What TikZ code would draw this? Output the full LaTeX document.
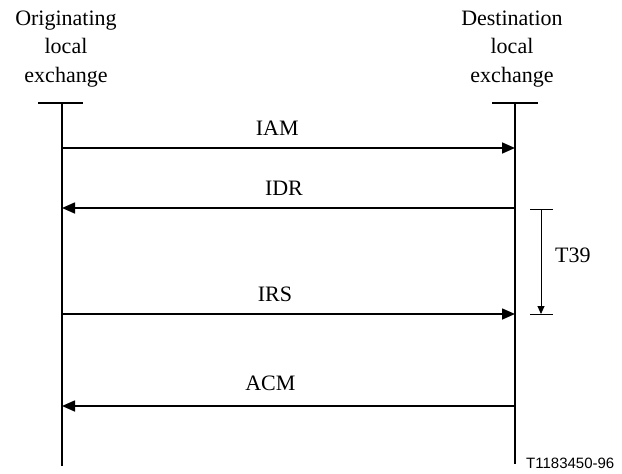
\documentclass[tikz,border=0pt]{standalone}
\usepackage{fontspec}
\setmainfont{Liberation Serif}
\newfontfamily\figfont{Liberation Sans}
\usepackage{xcolor}
\usepackage{tikz}
\usetikzlibrary{arrows.meta,positioning,calc}

\begin{document}
\begin{tikzpicture}[x=1pt,y=-1pt,
  life/.style={line width=2pt},
  msg/.style={line width=1.6pt,-{Triangle[length=13pt,width=11pt]}},
  timer/.style={line width=0.9pt},
  lbl/.style={font=\fontsize{22}{28.5}\selectfont,inner sep=0pt,anchor=base,yshift=13pt}]
\useasboundingbox (0,0) rectangle (622,474);

% exchanges
\coordinate (orig) at (62,103);
\coordinate (dest) at (515,103);
\node[align=center,inner sep=0pt,anchor=base,font=\fontsize{22}{28.5}\selectfont]
  (origtxt) at (66,82) {Originating\\local\\exchange};
\node[align=center,inner sep=0pt,anchor=base,font=\fontsize{22}{28.5}\selectfont]
  (desttxt) at (512,82) {Destination\\local\\exchange};
\draw[life] ([xshift=-24pt]orig) -- ([xshift=21pt]orig);
\draw[life] ([xshift=-23pt]dest) -- ([xshift=23pt]dest);
\draw[life] (orig) -- (orig |- 0,466);
\draw[life] (dest) -- (dest |- 0,464);

% messages
\draw[msg] (orig |- 0,148) -- node[lbl,pos=.475]{IAM} (dest |- 0,148);
\draw[msg] (dest |- 0,208) -- node[lbl,pos=.51]{IDR} (orig |- 0,208);
\draw[msg] (orig |- 0,314) -- node[lbl,pos=.47]{IRS} (dest |- 0,314);
\draw[msg] (dest |- 0,406) -- node[lbl,pos=.54,yshift=3pt]{ACM} (orig |- 0,406);

% timer
\coordinate (tstart) at (541,209);
\coordinate (tstop) at (541,314);
\draw[timer] ([xshift=-11pt]tstart) -- ([xshift=12pt]tstart);
\draw[timer] ([xshift=-11pt]tstop) -- ([xshift=12pt]tstop);
\draw[timer,-{Triangle[length=8pt,width=7pt]}] (tstart) -- (tstop);
\node[font=\fontsize{22}{28.5}\selectfont,inner sep=0pt,anchor=base west] (ttxt) at (555,262) {T39};

\node[font=\figfont\fontsize{15}{18}\selectfont,inner sep=0pt,anchor=base west] (fig) at (526,468) {T1183450-96};
\end{tikzpicture}
\end{document}
